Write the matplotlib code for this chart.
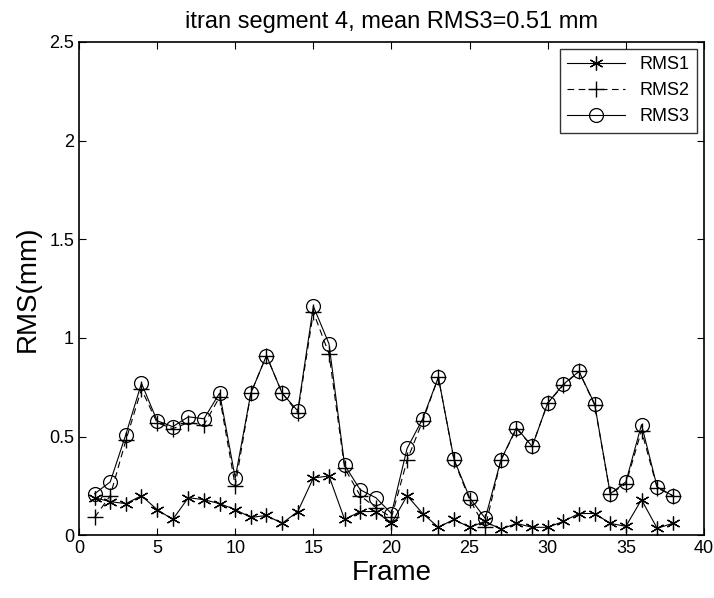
import numpy as np
import matplotlib
matplotlib.use("Agg")
import matplotlib.pyplot as plt

plt.rcParams["font.family"] = ["Liberation Sans", "DejaVu Sans"]

frames = list(range(1, 39))
rms1 = [0.19, 0.17, 0.16, 0.20, 0.13, 0.08, 0.19, 0.18, 0.16, 0.13,
        0.09, 0.10, 0.06, 0.12, 0.29, 0.30, 0.08, 0.12, 0.12, 0.06,
        0.20, 0.11, 0.04, 0.08, 0.04, 0.07, 0.03, 0.06, 0.04, 0.04,
        0.07, 0.11, 0.11, 0.06, 0.045, 0.18, 0.035, 0.06]
rms2 = [0.09, 0.20, 0.48, 0.74, 0.57, 0.54, 0.57, 0.56, 0.70, 0.25,
        0.72, 0.91, 0.72, 0.62, 1.13, 0.92, 0.34, 0.20, 0.14, 0.09,
        0.38, 0.58, 0.80, 0.38, 0.18, 0.04, 0.38, 0.54, 0.45, 0.67,
        0.76, 0.83, 0.66, 0.21, 0.26, 0.53, 0.24, 0.20]
rms3 = [0.21, 0.27, 0.51, 0.77, 0.58, 0.55, 0.60, 0.59, 0.72, 0.29,
        0.72, 0.91, 0.72, 0.63, 1.16, 0.97, 0.355, 0.23, 0.19, 0.11,
        0.44, 0.59, 0.80, 0.385, 0.19, 0.085, 0.38, 0.545, 0.45, 0.67,
        0.765, 0.83, 0.665, 0.21, 0.27, 0.56, 0.245, 0.20]

fig = plt.figure(figsize=(7.14, 5.98), dpi=100)
ax = fig.add_axes([0.1106, 0.105, 0.8754, 0.825])

ax.plot(frames, rms1, "-", color="black", lw=0.8, marker=(6, 2, 0), ms=10, mew=0.9, label="RMS1")
ax.plot(frames, rms2, color="black", lw=0.8, dashes=(6, 4), marker="+", ms=11, mew=1, label="RMS2")
ax.plot(frames, rms3, "-", color="black", lw=0.8, marker="o", ms=10, mfc="none", mew=0.9, label="RMS3")

ax.set_xlim(0, 40)
ax.set_ylim(0, 2.5)
ax.set_xticks(range(0, 41, 5))
ax.set_yticks([0, 0.5, 1, 1.5, 2, 2.5])
ax.set_yticklabels(["0", "0.5", "1", "1.5", "2", "2.5"])
ax.tick_params(direction="in", top=True, right=True, length=5, labelsize=13)
for s in ax.spines.values():
    s.set_linewidth(1.2)

ax.set_title("itran segment 4, mean RMS3=0.51 mm", fontsize=17, pad=10)
ax.set_xlabel("Frame", fontsize=20, labelpad=2)
ax.set_ylabel("RMS(mm)", fontsize=20, labelpad=6)

leg = ax.legend(loc="upper right", fontsize=13, frameon=True, fancybox=False,
                edgecolor="black", handlelength=3.2, borderaxespad=0.4)
leg.get_frame().set_linewidth(1.0)

fig.savefig("out.png", dpi=100)
